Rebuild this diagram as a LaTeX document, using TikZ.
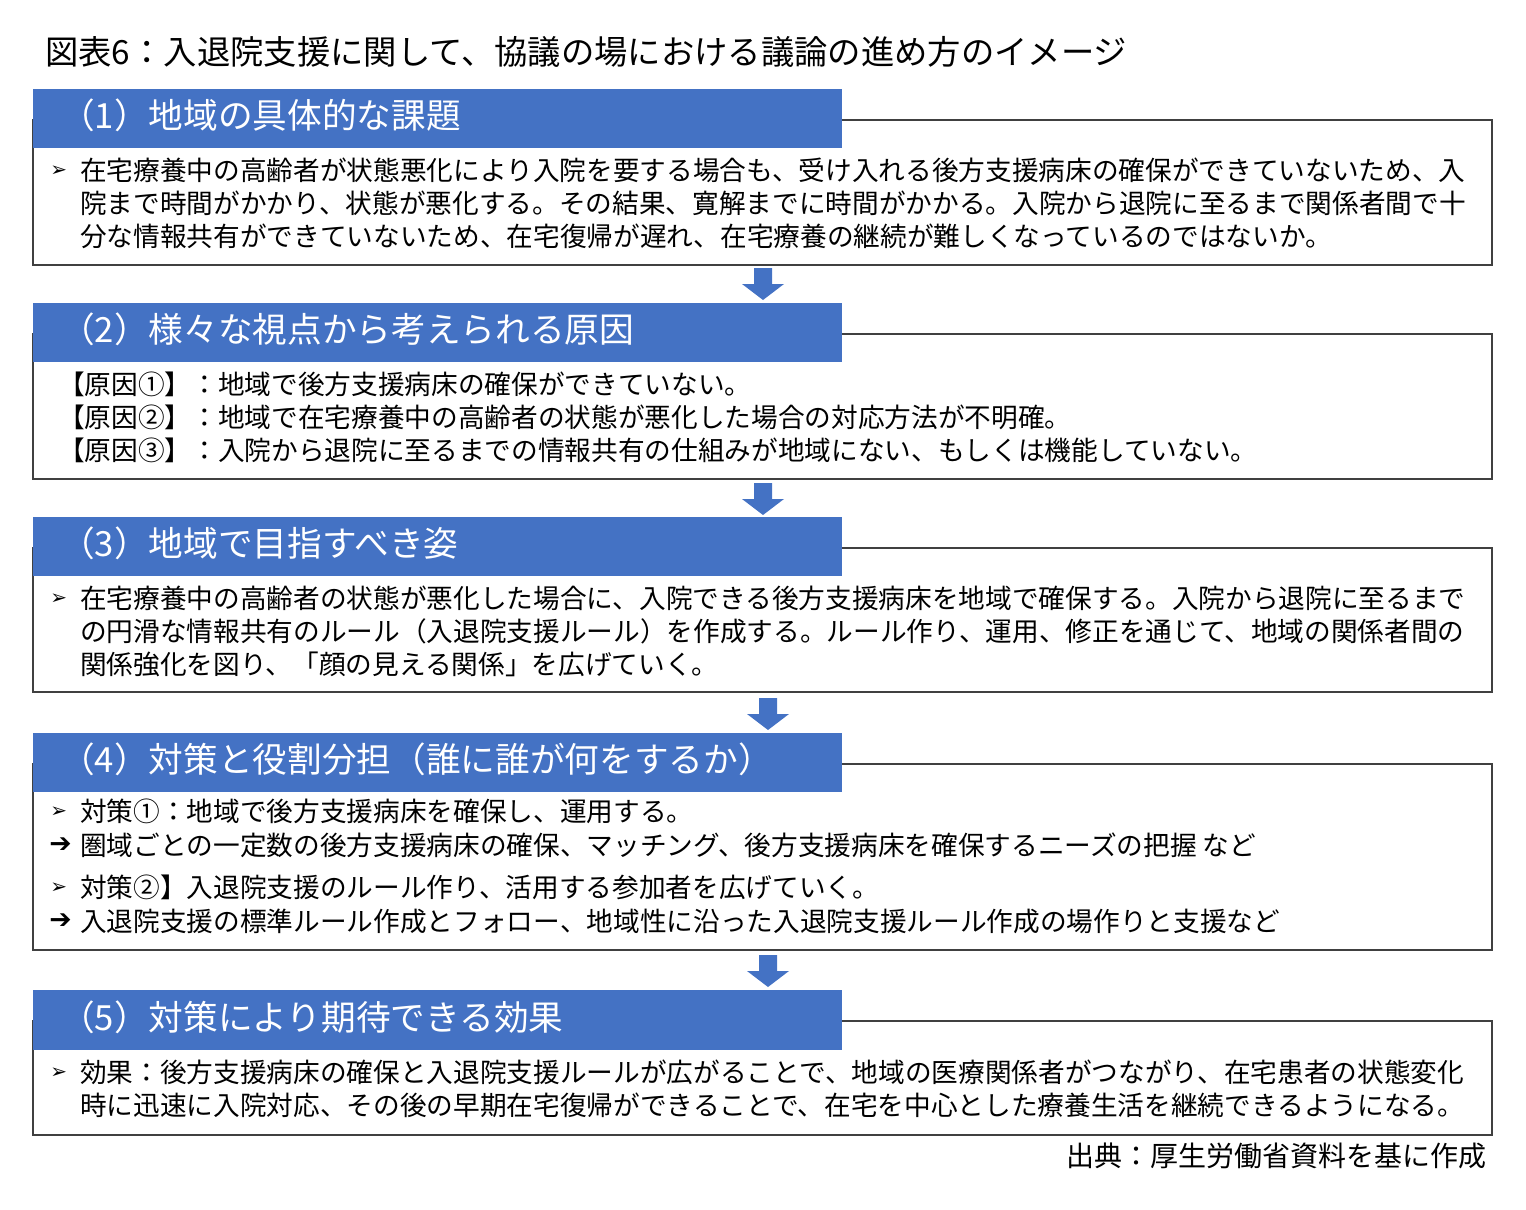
\documentclass[tikz,border=0pt]{standalone}
\usepackage{fontspec}
\setmainfont{Noto Sans CJK JP}
\newfontfamily\dv{DejaVu Sans}
\begin{document}
\begin{tikzpicture}[x=0.75pt,y=-0.75pt,
  hdr/.style={fill=blueC,draw=none},
  outl/.style={draw=black!75,line width=0.9pt},
  htxt/.style={anchor=west,inner sep=0,text=white,font=\fontsize{26}{30}\selectfont},
  btxt/.style={anchor=west,inner sep=0,font=\fontsize{20}{24}\selectfont},
  bul/.style={anchor=west,inner sep=0,font=\dv\fontsize{15}{18}\selectfont},
  barr/.style={fill=blueC,draw=none}]
\definecolor{blueC}{HTML}{4472C4}
\useasboundingbox (0,0) rectangle (1526,1209);
\node[anchor=west,inner sep=0,font=\fontsize{25}{30}\selectfont] (title) at (45,52) {図表6：入退院支援に関して、協議の場における議論の進め方のイメージ};
% box shapes
\foreach \ht/\hb/\ob in {89/148/265, 303/362/479, 517/576/692, 733/792/950, 990/1050/1135}{
  \draw[outl] (33,\ht+31) rectangle (1492,\ob);
  \fill[blueC] (33,\ht) rectangle (842,\hb);
}
% arrows
\foreach \cx/\ya in {763/268, 763/483, 768/698, 768/955}{
  \fill[blueC] (\cx-9,\ya) -- (\cx+9,\ya) -- (\cx+9,\ya+16) -- (\cx+21,\ya+16) -- (\cx,\ya+32) -- (\cx-21,\ya+16) -- (\cx-9,\ya+16) -- cycle;
}
\node[htxt] (h1) at (60,115) {（1）地域の具体的な課題};
\node[htxt] (h2) at (60,329) {（2）様々な視点から考えられる原因};
\node[htxt] (h3) at (60,543) {（3）地域で目指すべき姿};
\node[htxt] (h4) at (60,759) {（4）対策と役割分担（誰に誰が何をするか）};
\node[htxt] (h5) at (60,1017) {（5）対策により期待できる効果};
% box1
\node[bul] (b1) at (50,171) {➢};
\node[btxt] (t11) at (80,170) {在宅療養中の高齢者が状態悪化により入院を要する場合も、受け入れる後方支援病床の確保ができていないため、入};
\node[btxt] (t12) at (80,203) {院まで時間がかかり、状態が悪化する。その結果、寛解までに時間がかかる。入院から退院に至るまで関係者間で十};
\node[btxt] (t13) at (80,236) {分な情報共有ができていないため、在宅復帰が遅れ、在宅療養の継続が難しくなっているのではないか。};
% box2
\node[btxt] (t21) at (58,384) {【原因①】：地域で後方支援病床の確保ができていない。};
\node[btxt] (t22) at (58,417) {【原因②】：地域で在宅療養中の高齢者の状態が悪化した場合の対応方法が不明確。};
\node[btxt] (t23) at (58,450) {【原因③】：入院から退院に至るまでの情報共有の仕組みが地域にない、もしくは機能していない。};
% box3
\node[bul] (b3) at (50,599) {➢};
\node[btxt] (t31) at (80,598) {在宅療養中の高齢者の状態が悪化した場合に、入院できる後方支援病床を地域で確保する。入院から退院に至るまで};
\node[btxt] (t32) at (80,631) {の円滑な情報共有のルール（入退院支援ルール）を作成する。ルール作り、運用、修正を通じて、地域の関係者間の};
\node[btxt] (t33) at (80,664) {関係強化を図り、「顔の見える関係」を広げていく。};
% box4
\node[bul] (b41) at (50,812) {➢};
\node[btxt] (t41) at (80,811) {対策①：地域で後方支援病床を確保し、運用する。};
\node[bul,font=\dv\fontsize{20}{24}\selectfont] (a41) at (49,845) {➔};
\node[btxt] (t42) at (80,845) {圏域ごとの一定数の後方支援病床の確保、マッチング、後方支援病床を確保するニーズの把握 など};
\node[bul] (b42) at (50,888) {➢};
\node[btxt] (t43) at (80,887) {対策②】入退院支援のルール作り、活用する参加者を広げていく。};
\node[bul,font=\dv\fontsize{20}{24}\selectfont] (a42) at (49,921) {➔};
\node[btxt] (t44) at (80,921) {入退院支援の標準ルール作成とフォロー、地域性に沿った入退院支援ルール作成の場作りと支援など};
% box5
\node[bul] (b5) at (50,1073) {➢};
\node[btxt] (t51) at (80,1072) {効果：後方支援病床の確保と入退院支援ルールが広がることで、地域の医療関係者がつながり、在宅患者の状態変化};
\node[btxt] (t52) at (80,1105) {時に迅速に入院対応、その後の早期在宅復帰ができることで、在宅を中心とした療養生活を継続できるようになる。};
\node[anchor=east,inner sep=0,font=\fontsize{21}{25}\selectfont] (src) at (1487,1156) {出典：厚生労働省資料を基に作成};
\end{tikzpicture}
\end{document}
